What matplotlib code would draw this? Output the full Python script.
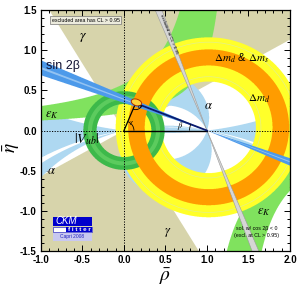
"""CKMfitter style (rho-bar, eta-bar) plane, Capri 2008."""

import numpy as np
import matplotlib
matplotlib.use('Agg')
import matplotlib.pyplot as plt
from matplotlib.patches import Ellipse, Arc, Rectangle, Circle
from matplotlib.ticker import MultipleLocator

plt.rcParams['font.family'] = ['Liberation Sans', 'DejaVu Sans']
plt.rcParams['mathtext.fontset'] = 'stix'

# ---- constraint parameters ----
x_ticks = [-1.0, -0.5, 0.0, 0.5, 1.0, 1.5, 2.0]
y_ticks = [-1.5, -1.0, -0.5, 0.0, 0.5, 1.0, 1.5]
apex = [0.14, 0.34]                               # global fit (rho, eta)
gamma_ranges = [[29.5, 121.0], [209.5, 301.0]]    # wedge from (0,0), deg
alpha_ranges = [[72.0, 116.0], [166.0, 169.3], [170.9, 187.0]]  # deg, mod 180
beta_band = [156.4, 161.0]                        # ray from (1,0), deg mod 180
beta_core = [158.4, 159.1]
beta_cos_neg = [109.9, 112.6]                     # cos 2beta < 0 solution
vub_ring = [0.33, 0.49]
vub_core = [0.385, 0.435]
dm_centre = [1.02, 0.04]
dmd_ring = [0.57, 1.12]
dmd_lines = [0.63, 1.06]
dms_ring = [0.77, 0.97]
epsk_upper = [[1.10, 0.64], [1.313, 0.289]]      # (c, k): eta = k / (c - rho)
epsk_lower = [[0.87, 0.554], [1.32, 0.51]]       # rho = c + k / |eta|

COLORS = {
    'gamma': '#D7D4AB',
    'alpha': '#AED8F1',
    'epsk': '#80E25E',
    'dmd': '#FFFF2A',
    'dmd_line': '#E4F08C',
    'dms': '#FF9C00',
    'vub': '#3DB94A',
    'vub_core': '#5CCB5E',
    'beta': '#4D9AEA',
    'beta_core': '#93C3F2',
    'strip': '#D6D6D6',
}

fig = plt.figure(figsize=(2.98, 2.87), dpi=100)
ax = fig.add_axes([0.1376, 0.1254, 0.8354, 0.8396])
ax.set_xlim(-1.0, 2.0)
ax.set_ylim(-1.5, 1.5)

rr, ee = np.meshgrid(np.linspace(-1.0, 2.0, 1100), np.linspace(-1.5, 1.5, 1100))


def fill(mask, color, z):
    ax.contourf(rr, ee, mask.astype(float), levels=[0.5, 1.5],
                colors=[color], zorder=z, antialiased=True)


def in_ranges(a, ranges, period):
    m = np.zeros_like(a, dtype=bool)
    for lo, hi in ranges:
        m |= np.mod(a - lo, period) <= (hi - lo)
    return m


# gamma: wedge from origin
th0 = np.mod(np.degrees(np.arctan2(ee, rr)), 360)
fill(in_ranges(th0, gamma_ranges, 360), COLORS['gamma'], 1)

# alpha: angle at (rho, eta) between (0,0) and (1,0)
ux, uy = -rr, -ee
vx, vy = 1 - rr, -ee
a_sig = np.degrees(np.arctan2(ux * vy - uy * vx, ux * vx + uy * vy))
fill(in_ranges(np.mod(a_sig, 180), alpha_ranges, 180), COLORS['alpha'], 2)

# epsilon_K hyperbolic bands
e_pos = np.where(ee > 1e-6, ee, 1e-6)
e_neg = np.where(ee < -1e-6, -ee, 1e-6)
(ca, ka), (cb, kb) = epsk_upper
(cc, kc), (cd, kd) = epsk_lower
m_up = (ee > 0) & (rr >= ca - ka / e_pos) & (rr <= cb - kb / e_pos)
m_lo = (ee < 0) & (rr >= cc + kc / e_neg) & (rr <= cd + kd / e_neg)
fill(m_up | m_lo, COLORS['epsk'], 3)

# Delta m_d, Delta m_s
d1 = np.hypot(rr - dm_centre[0], ee - dm_centre[1])
fill((d1 >= dmd_ring[0]) & (d1 <= dmd_ring[1]), COLORS['dmd'], 4)
for r in dmd_lines:
    ax.add_patch(Circle(dm_centre, r, fill=False, edgecolor=COLORS['dmd_line'], lw=0.5, zorder=4.1))

# |Vub/Vcb|
d0 = np.hypot(rr, ee)
fill((d0 >= vub_ring[0]) & (d0 <= vub_ring[1]), COLORS['vub'], 5)
fill((d0 >= vub_core[0]) & (d0 <= vub_core[1]), COLORS['vub_core'], 5.1)

fill((d1 >= dms_ring[0]) & (d1 <= dms_ring[1]), COLORS['dms'], 6)

# sin 2beta and the cos 2beta < 0 solution
th1 = np.mod(np.degrees(np.arctan2(ee, rr - 1.0)), 180)
fill(in_ranges(th1, [beta_band], 180), COLORS['beta'], 7)
fill(in_ranges(th1, [beta_core], 180), COLORS['beta_core'], 7.1)
fill(in_ranges(th1, [beta_cos_neg], 180), COLORS['strip'], 8)
for ang in beta_cos_neg:
    t = np.radians(ang)
    ax.plot([1 - 3 * np.cos(t), 1 + 3 * np.cos(t)], [-3 * np.sin(t), 3 * np.sin(t)],
            color='#9A9A9A', lw=0.4, zorder=8.1)

# dotted axes
ax.axvline(0, color='black', ls=(0, (1.2, 1.5)), lw=0.7, zorder=9)
ax.axhline(0, color='black', ls=(0, (1.2, 1.5)), lw=0.7, zorder=9)

# unitarity triangle
ax.plot([0, 1], [0, 0], color='black', lw=1.0, zorder=10)
ax.plot([0, apex[0]], [0, apex[1]], color='black', lw=0.9, zorder=10)
ax.plot([1, apex[0]], [0, apex[1]], color='#0A1A6E', lw=1.3, zorder=10)
gam = np.degrees(np.arctan2(apex[1], apex[0]))
bet = np.degrees(np.arctan2(apex[1], 1 - apex[0]))
ax.add_patch(Arc((0, 0), 0.24, 0.24, theta1=0, theta2=gam, color='black', lw=0.6, zorder=10))
ax.add_patch(Arc((1, 0), 0.42, 0.42, theta1=180 - bet, theta2=180, color='black', lw=0.6, zorder=10))
ax.add_patch(Arc((apex[0], apex[1]), 0.16, 0.16, theta1=180 + gam, theta2=360 - bet,
                 color='black', lw=0.6, zorder=10))
ax.add_patch(Ellipse((apex[0] + 0.01, apex[1] + 0.01), 0.13, 0.08, angle=-20,
                     facecolor='#FFD23A', edgecolor='#B03000', lw=0.7, zorder=11))

# labels
tk = dict(zorder=12, ha='center', va='center')
ax.text(-0.49, 1.16, r'$\gamma$', fontsize=10, **tk)
ax.text(-0.94, 0.80, 'sin 2β', fontsize=9, zorder=12, ha='left', va='center', color='#111133')
ax.text(-0.87, 0.19, r'$\varepsilon_K$', fontsize=9, **tk)
ax.text(-0.45, -0.11, r'$|V_{ub}|$', fontsize=10, **tk)
ax.text(-0.88, -0.51, r'$\alpha$', fontsize=9, **tk)
ax.text(1.02, 0.30, r'$\alpha$', fontsize=9, **tk)
ax.text(1.63, 0.39, r'$\Delta m_d$', fontsize=8, **tk)
ax.text(1.41, 0.90, r'$\Delta m_d$ & $\Delta m_s$', fontsize=8, **tk)
ax.text(0.53, -1.27, r'$\gamma$', fontsize=9, **tk)
ax.text(1.69, -1.01, r'$\varepsilon_K$', fontsize=9, **tk)
ax.text(0.68, 0.06, r'$\beta$', fontsize=6, **tk)
ax.text(0.09, 0.09, r'$\gamma$', fontsize=5, **tk)
ax.text(0.19, 0.30, r'$\alpha$', fontsize=5, **tk)
ax.text(1.60, -1.265, 'sol. w/ cos 2β < 0\n(excl. at CL > 0.95)', fontsize=3.8,
        linespacing=1.5, **tk)
ax.text(-0.46, 1.375, 'excluded area has CL > 0.95', fontsize=3.8, zorder=12,
        ha='center', va='center',
        bbox=dict(boxstyle='square,pad=0.25', facecolor='#ECEBDD', edgecolor='#777777', lw=0.5))
ax.text(0.54, 1.2, 'excluded at CL > 0.95', fontsize=3.2, rotation=-68.2, zorder=12,
        ha='center', va='center')

# CKMfitter logo
ax.add_patch(Rectangle((-0.855, -1.19), 0.47, 0.115, facecolor='#0000CC', edgecolor='none', zorder=12))
ax.text(-0.70, -1.13, 'CKM', fontsize=7, style='italic', color='white', zorder=13, ha='center', va='center')
ax.add_patch(Rectangle((-0.855, -1.265), 0.47, 0.068, facecolor='white', edgecolor='#0000CC', lw=0.4, zorder=12))
ax.add_patch(Rectangle((-0.70, -1.265), 0.315, 0.068, facecolor='#0000CC', edgecolor='none', zorder=12.5))
ax.text(-0.54, -1.23, 'f i t t e r', fontsize=4.5, fontweight='bold', color='white', zorder=13,
        ha='center', va='center')
ax.add_patch(Rectangle((-0.855, -1.37), 0.47, 0.095, facecolor='#C8C8F0', edgecolor='none', zorder=12))
ax.text(-0.62, -1.322, 'Capri 2008', fontsize=3.5, color='#2020C0', zorder=13, ha='center', va='center')

# axes cosmetics
ax.set_xticks(x_ticks)
ax.set_yticks(y_ticks)
ax.set_xticklabels([f'{v:.1f}' for v in x_ticks], fontweight='bold', fontsize=7)
ax.set_yticklabels([f'{v:.1f}' for v in y_ticks], fontweight='bold', fontsize=7)
ax.xaxis.set_minor_locator(MultipleLocator(0.1))
ax.yaxis.set_minor_locator(MultipleLocator(0.1))
ax.tick_params(which='both', direction='in', top=True, right=True, width=0.7)
ax.tick_params(which='major', length=4.5, pad=3)
ax.tick_params(which='minor', length=2.5)
for s in ax.spines.values():
    s.set_linewidth(0.9)
    s.set_zorder(20)
ax.set_xlabel(r'$\bar{\rho}$', fontsize=14, labelpad=1)
fig.text(0.04, 0.485, r'$\bar{\eta}$', fontsize=14, rotation=90, ha='center', va='center')

fig.savefig('out.png', dpi=100)
